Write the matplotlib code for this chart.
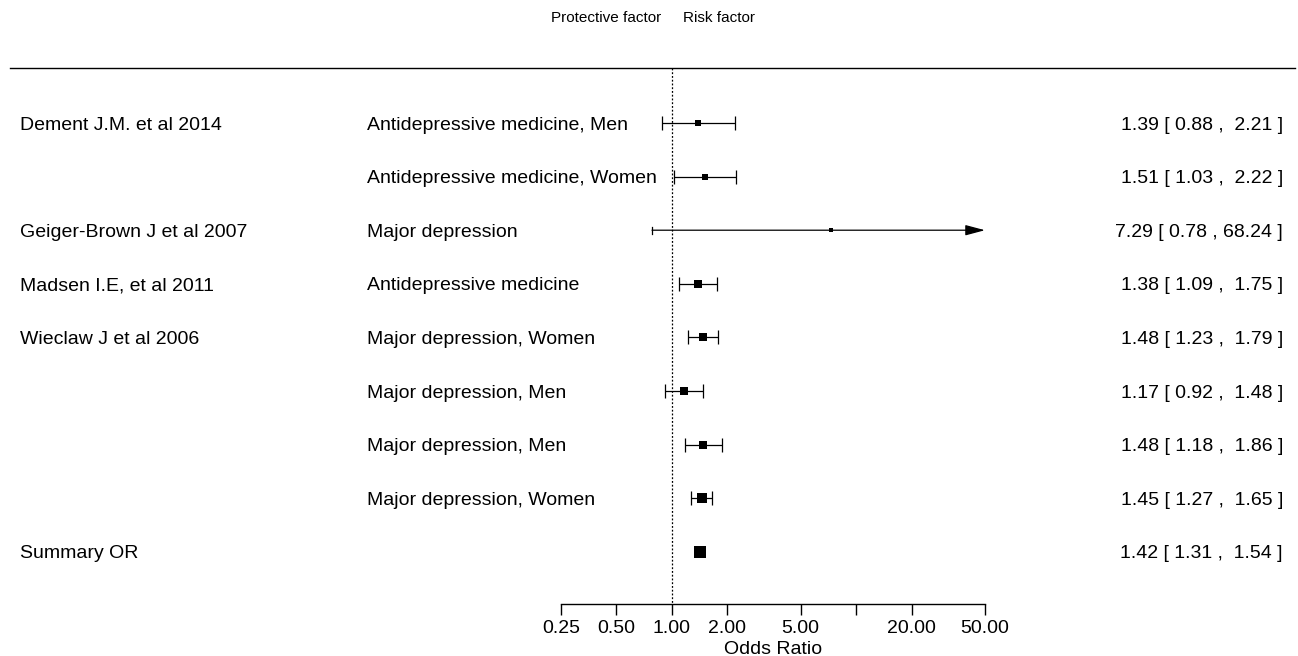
import matplotlib
matplotlib.use("Agg")
import matplotlib.pyplot as plt
import numpy as np

plt.rcParams['font.family'] = ['Liberation Sans', 'DejaVu Sans']

## DATA

studies = ["Dement J.M. et al 2014", "", "Geiger-Brown J et al 2007",
           "Madsen I.E, et al 2011", "Wieclaw J et al 2006", "", "", ""]
outcomes = ["Antidepressive medicine, Men", "Antidepressive medicine, Women",
            "Major depression", "Antidepressive medicine",
            "Major depression, Women", "Major depression, Men",
            "Major depression, Men", "Major depression, Women"]
odds = [1.39, 1.51, 7.29, 1.38, 1.48, 1.17, 1.48, 1.45]
ci_low = [0.88, 1.03, 0.78, 1.09, 1.23, 0.92, 1.18, 1.27]
ci_high = [2.21, 2.22, 68.24, 1.75, 1.79, 1.48, 1.86, 1.65]

summary_label = "Summary OR"
summary_or = 1.42
summary_low = 1.31
summary_high = 1.54

tick_values = [0.25, 0.5, 1, 2, 5, 10, 20, 50]
tick_labels = ["0.25", "0.50", "1.00", "2.00", "5.00", "", "20.00", "50.00"]

## STYLE

box_pt = [5.0, 5.0, 2.2, 5.2, 6.0, 5.2, 5.2, 7.2]   # square size per study
FS = 14
x_lo, x_hi = 0.25, 50

fig = plt.figure(figsize=(12.98, 6.56), dpi=100)
ax = fig.add_axes([0, 0, 1, 1])
ax.set_xscale('log', base=2)
ax.set_xlim(2 ** (-671.9 / 55.47), 2 ** ((1298 - 671.9) / 55.47))
ax.set_ylim(10.944, -1.295)

rows = np.arange(1, len(odds) + 1)
sum_row = len(odds) + 1
yax = ax.get_yaxis_transform()   # x in axes fraction, y in data

# header line and reference line at OR = 1
ax.plot([10 / 1298, 1295 / 1298], [-0.03, -0.03], color='black', lw=1.0,
        transform=yax, clip_on=False)
ax.plot([1, 1], [-0.03, 9.97], color='black', lw=0.9, ls=(0, (1.5, 1.5)))

# studies
for r, est, lo, hi, sz in zip(rows, odds, ci_low, ci_high, box_pt):
    if hi > x_hi:
        # interval runs off the axis -> arrow
        ax.annotate('', xy=(x_hi, r), xytext=(lo, r),
                    arrowprops=dict(arrowstyle='-|>,head_length=1.2,head_width=0.32',
                                    color='black', lw=0.9, shrinkA=0, shrinkB=0))
        ax.plot([lo, lo], [r - 0.065, r + 0.065], color='black', lw=0.9)
    else:
        ax.errorbar(est, r, xerr=[[est - lo], [hi - est]], fmt='none',
                    ecolor='black', elinewidth=0.9, capsize=5, capthick=0.9)
    ax.plot(est, r, marker='s', ms=sz, color='black', mec='black', mew=0)

# summary
ax.fill([summary_low, summary_high, summary_high, summary_low],
        [sum_row - 0.11, sum_row - 0.11, sum_row + 0.11, sum_row + 0.11],
        color='black', lw=0)

# text columns
for r, s, o, est, lo, hi in zip(rows, studies, outcomes, odds, ci_low, ci_high):
    ax.text(20 / 1298, r, s, transform=yax, fontsize=FS, va='center_baseline', ha='left')
    ax.text(367 / 1298, r, o, transform=yax, fontsize=FS, va='center_baseline', ha='left')
    ax.text(1283 / 1298, r, f"{est:.2f} [ {lo:.2f} , {hi:5.2f} ]",
            transform=yax, fontsize=FS, va='center_baseline', ha='right')

ax.text(20 / 1298, sum_row, summary_label, transform=yax, fontsize=FS,
        va='center_baseline', ha='left')
ax.text(1283 / 1298, sum_row,
        f"{summary_or:.2f} [ {summary_low:.2f} , {summary_high:5.2f} ]",
        transform=yax, fontsize=FS, va='center_baseline', ha='right')

# header labels either side of OR = 1
ax.annotate("Protective factor", xy=(1, -0.98), xytext=(-8, 0),
            textcoords='offset points', ha='right', va='center_baseline', fontsize=11)
ax.annotate("Risk factor", xy=(1, -0.98), xytext=(8, 0),
            textcoords='offset points', ha='left', va='center_baseline', fontsize=11)

# x axis limited to the plotted range
for side in ['top', 'left', 'right']:
    ax.spines[side].set_visible(False)
ax.spines['bottom'].set_position(('data', 9.97))
ax.spines['bottom'].set_bounds(x_lo, x_hi)
ax.spines['bottom'].set_linewidth(1.0)
ax.set_xticks(tick_values)
ax.set_xticklabels(tick_labels)
ax.xaxis.set_minor_locator(matplotlib.ticker.NullLocator())
ax.tick_params(axis='x', direction='out', length=8, width=1.0, labelsize=FS, pad=4)
ax.set_yticks([])

ax.text(np.sqrt(x_lo * x_hi), 10.78, "Odds Ratio", fontsize=FS,
        ha='center', va='center_baseline')

fig.savefig('out.png', dpi=100)
